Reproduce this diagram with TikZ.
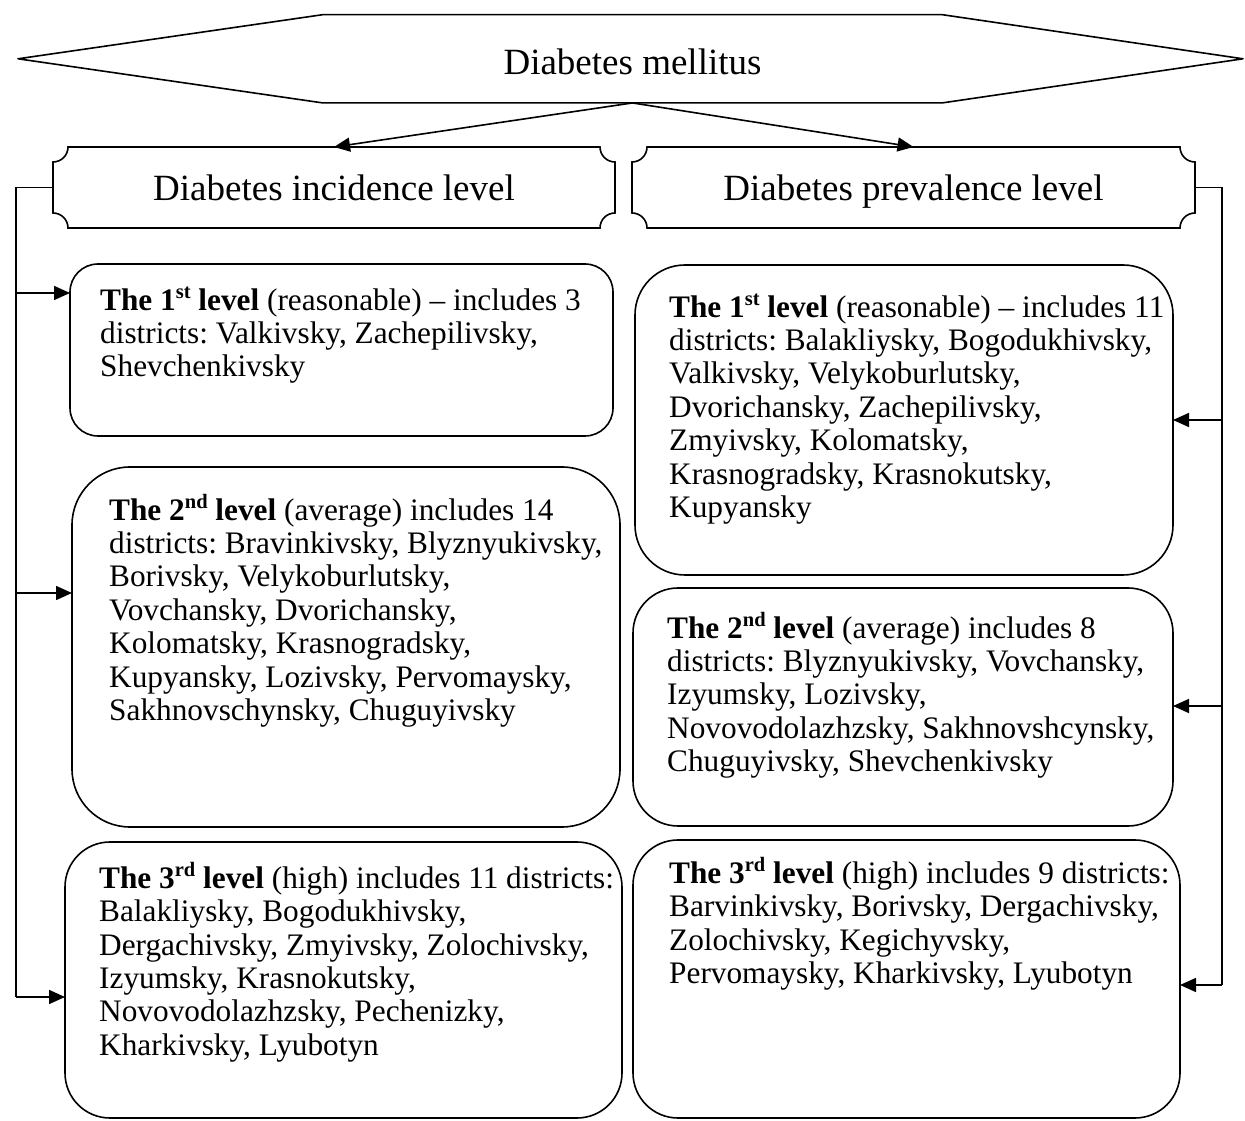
\documentclass[tikz,border=0pt]{standalone}
\usepackage{fontspec}
\setmainfont{Liberation Serif}
\usetikzlibrary{arrows.meta}
\newcommand\plaquepath[2]{%
  \draw[line] ([xshift=#2]#1.north west) -- ([xshift=-#2]#1.north east)
    arc[start angle=180,end angle=270,radius=#2] -- ([yshift=#2]#1.south east)
    arc[start angle=90,end angle=180,radius=#2] -- ([xshift=#2]#1.south west)
    arc[start angle=0,end angle=90,radius=#2] -- ([yshift=-#2]#1.north west)
    arc[start angle=270,end angle=360,radius=#2] -- cycle;}
\newcommand\lvlsup[1]{\raisebox{0.36em}{\fontsize{20.5}{21}\selectfont\bfseries #1}}
\begin{document}
\begin{tikzpicture}[x=1pt,y=1pt,
  line/.style={line width=1.6pt, black},
  arr/.style={line, -{Triangle[length=16pt,width=14pt]}},
  head/.style={outer sep=0pt, inner sep=0pt, text depth=0pt, font=\fontsize{37}{40}\selectfont},
  lvlbox/.style={draw, line width=1.6pt, outer sep=0pt, inner sep=0pt},
  lvltext/.style={anchor=north west, inner sep=0pt, align=left, font=\fontsize{31.3}{33.4}\selectfont\frenchspacing}]
\useasboundingbox (0,0) rectangle (1245,1120);

% title hexagon
\node[outer sep=0pt, minimum width=619pt, minimum height=88.3pt] (top) at (632.5,1061.2) {};
\draw[line, line join=round] ([xshift=-305pt]top.west) -- (top.north west) -- (top.north east)
  -- ([xshift=301pt]top.east) -- (top.south east) -- (top.south west) -- cycle;
\node[head] (toptext) at ([yshift=-3pt]top.center) {Diabetes mellitus};

% headers
\node[head, minimum width=562pt, minimum height=81pt] (H1) at (334,932.5) {Diabetes incidence level};
\node[head, minimum width=563pt, minimum height=81pt] (H2) at (913.5,932.5) {Diabetes prevalence level};
\plaquepath{H1}{15pt}
\plaquepath{H2}{15pt}

\draw[arr] (top.south) -- (H1.north);
\draw[arr] (top.south) -- (H2.north);

% left boxes
\node[lvlbox, rounded corners=28pt, minimum width=543pt, minimum height=172pt] (L1) at (341.5,770) {};
\node[lvlbox, rounded corners=58pt, minimum width=548pt, minimum height=360pt] (L2) at (346,473) {};
\node[lvlbox, rounded corners=45pt, minimum width=557pt, minimum height=276pt] (L3) at (343.5,140) {};
% right boxes
\node[lvlbox, rounded corners=50pt, minimum width=538pt, minimum height=310pt] (R1) at (904,700) {};
\node[lvlbox, rounded corners=45pt, minimum width=540pt, minimum height=238pt] (R2) at (903,413) {};
\node[lvlbox, rounded corners=45pt, minimum width=547pt, minimum height=278pt] (R3) at (906.5,141) {};

% texts
\node[lvltext] (L1t) at (100,838) {\rule{0pt}{28pt}\textbf{The 1\lvlsup{st} level} (reasonable) -- includes 3\\
districts: Valkivsky, Zachepilivsky,\\
Shevchenkivsky};
\node[lvltext] (L2t) at (109,628) {\rule{0pt}{28pt}\textbf{The 2\lvlsup{nd} level} (average) includes 14\\
districts: Bravinkivsky, Blyznyukivsky,\\
Borivsky, Velykoburlutsky,\\
Vovchansky, Dvorichansky,\\
Kolomatsky, Krasnogradsky,\\
Kupyansky, Lozivsky, Pervomaysky,\\
Sakhnovschynsky, Chuguyivsky};
\node[lvltext] (L3t) at (99,260) {\rule{0pt}{28pt}\textbf{The 3\lvlsup{rd} level} (high) includes 11 districts:\\
Balakliysky, Bogodukhivsky,\\
Dergachivsky, Zmyivsky, Zolochivsky,\\
Izyumsky, Krasnokutsky,\\
Novovodolazhzsky, Pechenizky,\\
Kharkivsky, Lyubotyn};
\node[lvltext] (R1t) at (669,831) {\rule{0pt}{28pt}\textbf{The 1\lvlsup{st} level} (reasonable) -- includes 11\\
districts: Balakliysky, Bogodukhivsky,\\
Valkivsky, Velykoburlutsky,\\
Dvorichansky, Zachepilivsky,\\
Zmyivsky, Kolomatsky,\\
Krasnogradsky, Krasnokutsky,\\
Kupyansky};
\node[lvltext] (R2t) at (667,510) {\rule{0pt}{28pt}\textbf{The 2\lvlsup{nd} level} (average) includes 8\\
districts: Blyznyukivsky, Vovchansky,\\
Izyumsky, Lozivsky,\\
Novovodolazhzsky, Sakhnovshcynsky,\\
Chuguyivsky, Shevchenkivsky};
\node[lvltext] (R3t) at (669,265) {\rule{0pt}{28pt}\textbf{The 3\lvlsup{rd} level} (high) includes 9 districts:\\
Barvinkivsky, Borivsky, Dergachivsky,\\
Zolochivsky, Kegichyvsky,\\
Pervomaysky, Kharkivsky, Lyubotyn};

% left connectors
\coordinate (bl) at (16,123);
\coordinate (b1) at (16,827);
\coordinate (b2) at (16,527);
\draw[line] (H1.west) -| (bl);
\draw[arr] (b1) -- (b1 -| L1.west);
\draw[arr] (b2) -- (b2 -| L2.west);
\draw[arr] (bl) -- (bl -| L3.west);

% right connectors
\coordinate (br) at (1222,135);
\coordinate (c1) at (1222,700);
\coordinate (c2) at (1222,414);
\draw[line] (H2.east) -| (br);
\draw[arr] (c1) -- (c1 -| R1.east);
\draw[arr] (c2) -- (c2 -| R2.east);
\draw[arr] (br) -- (br -| R3.east);
\end{tikzpicture}
\end{document}
